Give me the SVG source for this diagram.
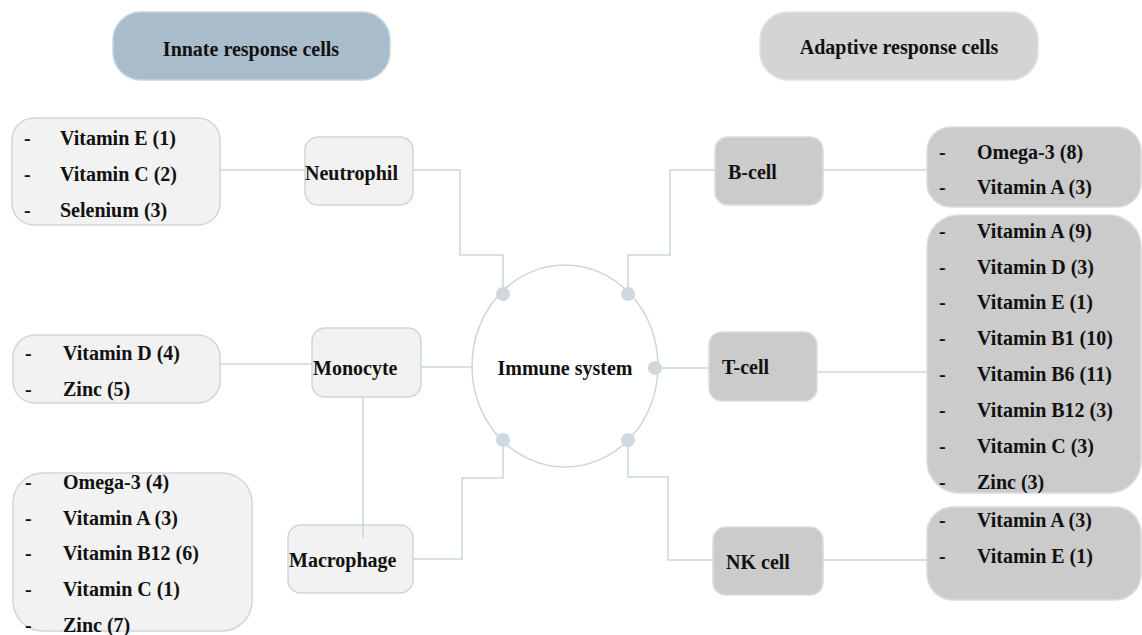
<svg xmlns="http://www.w3.org/2000/svg" width="1142" height="635" viewBox="0 0 1142 635">
<style>
text{font-family:"Liberation Serif","Times New Roman",serif;font-weight:bold;font-size:20px;fill:#111}
.c{text-anchor:middle}
.lb{fill:#f2f2f2;stroke:#cbd7e0;stroke-width:1.5}
.rb{fill:#cbcbcb;stroke:#dcdcdc;stroke-width:1.5}
.con{fill:none;stroke:#c9d6e0;stroke-width:1.5}
.dot{fill:#cdd8e1}
</style>
<rect width="1142" height="635" fill="#fff"/>
<g id="innate-header">
<rect x="113" y="12" width="277" height="68" rx="28" fill="#a9bccb" stroke="#c6d3dd" stroke-width="1.5"/>
<text class="c" x="251" y="56">Innate response cells</text>
</g>
<g id="adaptive-header">
<rect x="760" y="12" width="278" height="68" rx="28" fill="#d4d4d4" stroke="#e2e2e2" stroke-width="1.5"/>
<text class="c" x="899" y="54">Adaptive response cells</text>
</g>
<g id="list-neutrophil">
<rect class="lb" x="12" y="118" width="208" height="107" rx="22"/>
<text x="24" y="145">-</text><text x="60" y="145">Vitamin E (1)</text>
<text x="24" y="181">-</text><text x="60" y="181">Vitamin C (2)</text>
<text x="24" y="217">-</text><text x="60" y="217">Selenium (3)</text>
</g>
<g id="list-monocyte">
<rect class="lb" x="13" y="335" width="207" height="68" rx="22"/>
<text x="25" y="360">-</text><text x="63" y="360">Vitamin D (4)</text>
<text x="25" y="396">-</text><text x="63" y="396">Zinc (5)</text>
</g>
<g id="list-macrophage">
<rect class="lb" x="13" y="473" width="239" height="158" rx="30"/>
<text x="25" y="489">-</text><text x="63" y="489">Omega-3 (4)</text>
<text x="25" y="525">-</text><text x="63" y="525">Vitamin A (3)</text>
<text x="25" y="560">-</text><text x="63" y="560">Vitamin B12 (6)</text>
<text x="25" y="596">-</text><text x="63" y="596">Vitamin C (1)</text>
<text x="25" y="632">-</text><text x="63" y="632">Zinc (7)</text>
</g>
<g id="neutrophil">
<rect class="lb" x="305" y="137" width="108" height="68" rx="13"/>
<text x="305" y="180">Neutrophil</text>
</g>
<g id="monocyte">
<rect class="lb" x="312" y="328" width="109" height="69" rx="13"/>
<text x="313" y="375">Monocyte</text>
</g>
<g id="macrophage">
<rect class="lb" x="288" y="525" width="125" height="68" rx="13"/>
<text x="289" y="567">Macrophage</text>
</g>
<g id="bcell">
<rect class="rb" x="715" y="137" width="108" height="68" rx="13"/>
<text x="728" y="179">B-cell</text>
</g>
<g id="tcell">
<rect class="rb" x="709" y="332" width="108" height="69" rx="13"/>
<text x="722" y="374">T-cell</text>
</g>
<g id="nkcell">
<rect class="rb" x="713" y="527" width="110" height="68" rx="13"/>
<text x="726" y="569">NK cell</text>
</g>
<g id="list-bcell">
<rect class="rb" x="927" y="127" width="214" height="80" rx="24"/>
<text x="939" y="159">-</text><text x="977" y="159">Omega-3 (8)</text>
<text x="939" y="194">-</text><text x="977" y="194">Vitamin A (3)</text>
</g>
<g id="list-tcell">
<rect class="rb" x="927" y="215" width="214" height="278" rx="32"/>
<text x="939" y="238">-</text><text x="977" y="238">Vitamin A (9)</text>
<text x="939" y="274">-</text><text x="977" y="274">Vitamin D (3)</text>
<text x="939" y="309">-</text><text x="977" y="309">Vitamin E (1)</text>
<text x="939" y="345">-</text><text x="977" y="345">Vitamin B1 (10)</text>
<text x="939" y="381">-</text><text x="977" y="381">Vitamin B6 (11)</text>
<text x="939" y="417">-</text><text x="977" y="417">Vitamin B12 (3)</text>
<text x="939" y="453">-</text><text x="977" y="453">Vitamin C (3)</text>
<text x="939" y="489">-</text><text x="977" y="489">Zinc (3)</text>
</g>
<g id="list-nkcell">
<rect class="rb" x="927" y="507" width="214" height="93" rx="26"/>
<text x="939" y="527">-</text><text x="977" y="527">Vitamin A (3)</text>
<text x="939" y="563">-</text><text x="977" y="563">Vitamin E (1)</text>
</g>
<g id="connectors">
<path class="con" d="M220 170H305"/>
<path class="con" d="M413 170H460V255H503V294"/>
<path class="con" d="M220 364H312"/>
<path class="con" d="M421 367H472"/>
<path class="con" d="M363 397V538"/>
<path class="con" d="M413 559H462V478H503V440"/>
<path class="con" d="M628 294V255H670V170H715"/>
<path class="con" d="M823 170H927"/>
<path class="con" d="M655 368H709"/>
<path class="con" d="M817 372H927"/>
<path class="con" d="M628 440V477H668V560H713"/>
<path class="con" d="M823 560H927"/>
</g>
<g id="immune-system">
<ellipse cx="565" cy="366" rx="93" ry="101" fill="#fff" stroke="#c9d6e0" stroke-width="1.5"/>
<text class="c" x="565" y="375">Immune system</text>
<circle class="dot" cx="503" cy="294" r="7"/>
<circle class="dot" cx="628" cy="294" r="7"/>
<circle class="dot" cx="655" cy="368" r="7"/>
<circle class="dot" cx="503" cy="440" r="7"/>
<circle class="dot" cx="628" cy="440" r="7"/>
</g>
</svg>
